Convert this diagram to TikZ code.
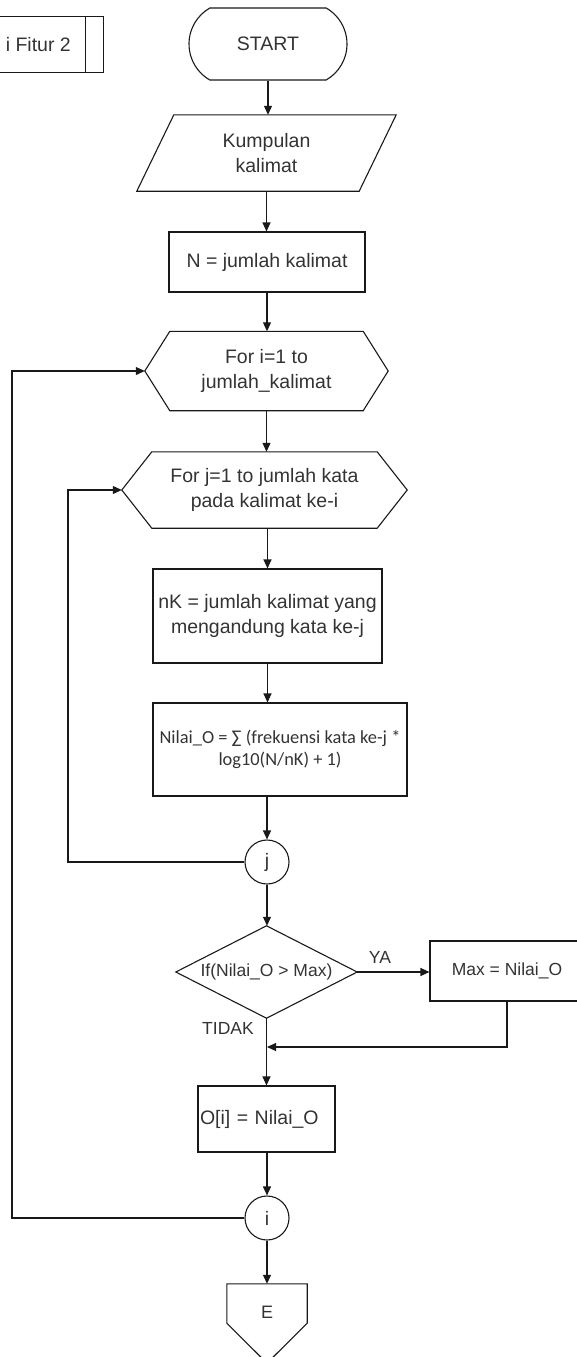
\documentclass[tikz,border=0pt]{standalone}
\usepackage{fontspec}
\setmainfont{Liberation Sans}
\newfontfamily\calibfont{Carlito}
\usetikzlibrary{arrows.meta,calc,shapes.misc}
\newcommand\txtbig{\fontsize{19.5pt}{24.5pt}\selectfont}
\newcommand\txtsmall{\fontsize{17.5pt}{21pt}\selectfont}
\begin{document}
\begin{tikzpicture}[x=1pt,y=-1pt,
  base/.style={font=\txtbig, text=black!80, align=center, inner sep=0pt},
  ln/.style={line width=1.1pt, draw=black!90},
  box/.style={base, ln, draw, rectangle},
  frame/.style={base, rectangle, draw=none},
  conn/.style={ln, -{Triangle[length=9pt,width=8pt]}},
  yesno/.style={base, font=\txtsmall},
]
\useasboundingbox (0,0) rectangle (577,1357);
\clip (0,0) rectangle (577,1357);

% off-page predefined process box
\node[frame, minimum width=163pt, minimum height=55pt] (pre) at (21.5,44.5) {};
\draw[ln] (pre.north west) -- (pre.north east) -- (pre.south east) -- (pre.south west);
\draw[ln] ([xshift=-18pt]pre.north east) -- ([xshift=-18pt]pre.south east);
\node[base, anchor=east] (pretxt) at (71,45) {i Fitur 2};

% terminator
\node[base, ln, draw, rounded rectangle, rounded rectangle arc length=120,
  minimum width=158pt, minimum height=72pt] (start) at (268,44) {START};

% input (parallelogram)
\node[frame, minimum width=259pt, minimum height=76pt] (para) at (266.5,153) {Kumpulan\\kalimat};
\draw[ln] ([xshift=37pt]para.north west) -- (para.north east)
  -- ([xshift=-37pt]para.south east) -- (para.south west) -- cycle;

% N
\node[box, minimum width=196pt, minimum height=60pt] (nbox) at (267,262) {N = jumlah kalimat};

% loop i (hexagon)
\node[frame, minimum width=243pt, minimum height=79pt] (hi) at (266.5,371) {For i=1 to\\jumlah\_kalimat};
\draw[ln] (hi.west) -- ([xshift=25pt]hi.north west) -- ([xshift=-25pt]hi.north east)
  -- (hi.east) -- ([xshift=-25pt]hi.south east) -- ([xshift=25pt]hi.south west) -- cycle;

% loop j (hexagon)
\node[frame, minimum width=285pt, minimum height=76pt] (hj) at (264.5,490) {For j=1 to jumlah kata\\pada kalimat ke-i};
\draw[ln] (hj.west) -- ([xshift=30pt]hj.north west) -- ([xshift=-30pt]hj.north east)
  -- (hj.east) -- ([xshift=-30pt]hj.south east) -- ([xshift=30pt]hj.south west) -- cycle;

% nK
\node[box, minimum width=229pt, minimum height=94pt] (nk) at (267.5,616) {nK = jumlah kalimat yang\\mengandung kata ke-j};

% Nilai_O
\node[box, minimum width=254pt, minimum height=93pt, font={\calibfont\fontsize{18.4pt}{22.5pt}\selectfont}] (nilai) at (280,749.5)
  {Nilai\_O = ∑ (frekuensi kata ke-j *\\log10(N/nK) + 1)};

% connector j
\node[box, circle, minimum size=44pt] (cj) at (267,862) {j};

% decision
\node[frame, minimum width=181pt, minimum height=92pt, font=\txtsmall] (dec) at (266.5,972) {If(Nilai\_O > Max)};
\draw[ln] (dec.north) -- (dec.east) -- (dec.south) -- (dec.west) -- cycle;

% Max
\node[box, minimum width=154pt, minimum height=60pt, font=\txtsmall] (max) at (507,971) {Max = Nilai\_O};

\node[yesno] (ya) at (380,957) {YA};
\node[yesno] (tidak) at (228,1028) {TIDAK};

% O[i]
\node[box, minimum width=137pt, minimum height=66pt, text width=133pt, align=left] (oi) at (266.5,1119) {O[i] = Nilai\_O};

% connector i
\node[box, circle, minimum size=44pt] (ci) at (267,1218) {i};

% off-page connector E
\node[frame, minimum width=80pt, minimum height=79pt] (endc) at (267,1323.5) {};
\draw[ln] (endc.north west) -- (endc.north east) -- ([yshift=40pt]endc.south east)
  -- (endc.south) -- ([yshift=40pt]endc.south west) -- cycle;
\node[base, font=\fontsize{18pt}{20pt}\selectfont] (etxt) at (267,1312) {E};

% helper coordinates
\coordinate (mg) at (267,1047);
\coordinate (jloop) at (68,0);
\coordinate (iloop) at (12,0);

% main flow
\draw[conn] (start.south) -- (start.south |- para.north);
\draw[conn] (para.south) -- (para.south |- nbox.north);
\draw[conn] (nbox.south) -- (nbox.south |- hi.north);
\draw[conn] (hi.south) -- (hi.south |- hj.north);
\draw[conn] (hj.south -| nk.north) -- (nk.north);
\draw[conn] (nk.south) -- (nk.south |- nilai.north);
\draw[conn] (cj |- nilai.south) -- (cj.north);
\draw[conn] (cj.south) -- (cj.south |- dec.north);
\draw[conn] (dec.east) -- (dec.east -| max.west);
\draw[conn] (max.south) |- (mg);
\draw[conn] (dec.south) -- (dec.south |- oi.north);
\draw[conn] (oi.south -| ci.north) -- (ci.north);
\draw[conn] (ci.south) -- (ci.south |- endc.north);

% loop-backs
\draw[conn] (cj.west) -- (cj.west -| jloop) |- (hj.west);
\draw[conn] (ci.west) -- (ci.west -| iloop) |- (hi.west);
\end{tikzpicture}
\end{document}
